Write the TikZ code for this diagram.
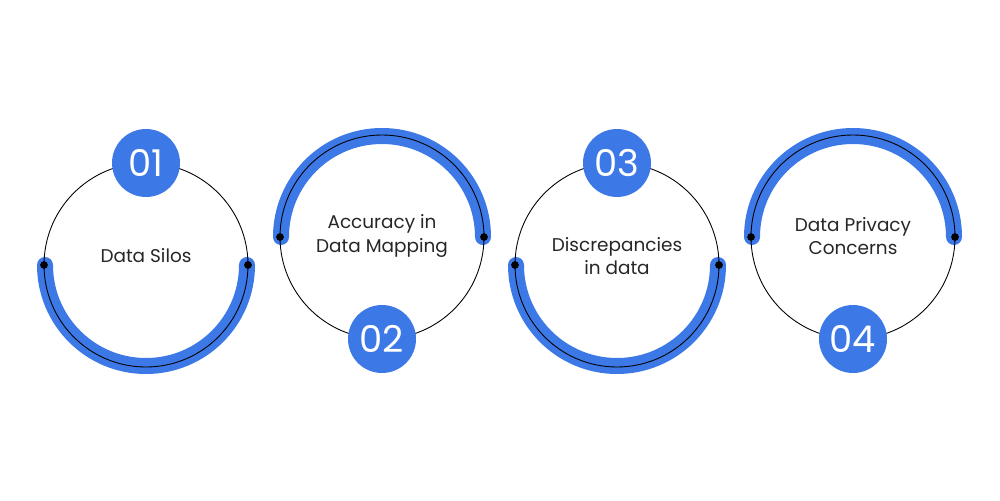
\documentclass[tikz,border=0pt]{standalone}
\usepackage{fontspec}
\setmainfont{Poppins}

\definecolor{ringblue}{HTML}{3C78E6}

\begin{document}
\begin{tikzpicture}[x=0.02cm,y=-0.02cm,
    thin ring/.style = {draw = black, line width = 0.5pt},
    band/.style = {draw = ringblue, line width = 16*0.02cm, line cap = round},
    badge/.style = {circle, fill = ringblue, minimum size = 68*0.02cm, inner sep = 0pt,
        text = white, font = \fontsize{21}{21}\selectfont},
    caption/.style = {align = center, font = \fontsize{10.5}{13.5}\selectfont, text = black!85}]
    \useasboundingbox (0,0) rectangle (1000,500);
    \def\r{102}

    % rings with the band on the lower half
    \foreach \x/\num/\txt/\n in {146/01/Data Silos/a, 617/03/Discrepancies\\in data/c}{
        \draw[band] (\x - 101, 265) arc[start angle = 180, end angle = 0, radius = 101];
        \draw[thin ring] (\x, 265) circle (\r);
        \fill (\x - \r, 265) circle (2.2pt) (\x + \r, 265) circle (2.2pt);
        \node[caption] (\n) at (\x, 256) {\txt};
        \node[badge] (b\n) at (\x, 163) {\num};
    }

    % rings with the band on the upper half
    \foreach \x/\num/\txt/\n in {382/02/Accuracy in\\Data Mapping/b, 853/04/Data Privacy\\Concerns/d}{
        \draw[band] (\x - 101, 237) arc[start angle = 180, end angle = 360, radius = 101];
        \draw[thin ring] (\x, 237) circle (\r);
        \fill (\x - \r, 237) circle (2.2pt) (\x + \r, 237) circle (2.2pt);
        \node[caption] (\n) at (\x, 236) {\txt};
        \node[badge] (b\n) at (\x, 339) {\num};
    }
\end{tikzpicture}
\end{document}
